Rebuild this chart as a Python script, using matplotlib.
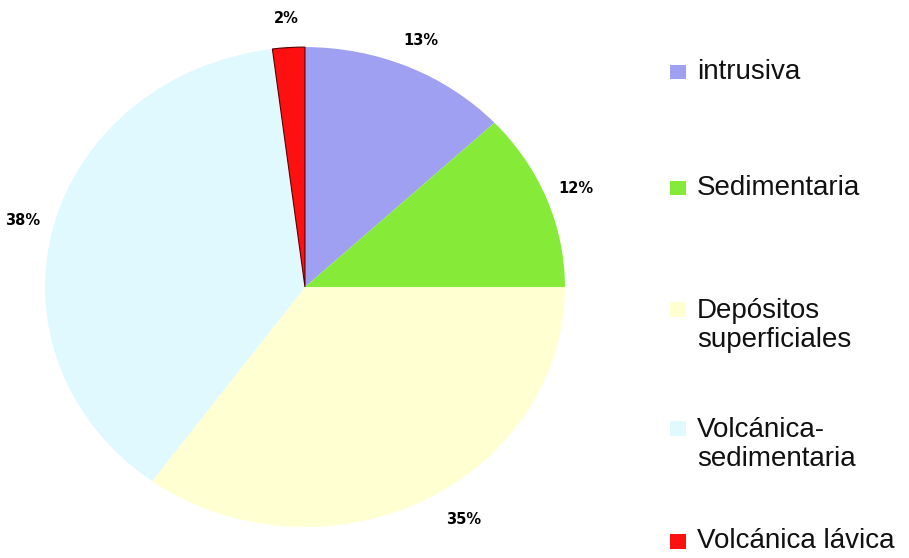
import matplotlib
matplotlib.use("Agg")
import matplotlib.pyplot as plt
from matplotlib.patches import Rectangle

# data
labels = ["intrusiva", "Sedimentaria", "Depósitos\nsuperficiales",
          "Volcánica-\nsedimentaria", "Volcánica lávica"]
values = [13, 12, 35, 38, 2]
colors = ["#a0a0f2", "#86ea38", "#ffffd2", "#e0f9ff", "#ff1010"]

legend_y = [0.871, 0.663, 0.416, 0.203, 0.030]

fig = plt.figure(figsize=(9.09, 5.58), dpi=100)
ax = fig.add_axes([0.0495, 0.0556, 0.572, 0.860])

wedges, texts, autotexts = ax.pie(
    values,
    colors=colors,
    startangle=90,
    counterclock=False,
    autopct="%1.0f%%",
    pctdistance=1.12,
    wedgeprops=dict(linewidth=0),
    textprops=dict(fontsize=10.5, fontweight="bold", color="black",
                   family="DejaVu Sans"),
)
# thin dark outline on the small red slice, like the original
wedges[4].set_edgecolor("#5a0000")
wedges[4].set_linewidth(0.8)

# the 35% label sits a little further round in the original
x35, y35 = autotexts[2].get_position()
autotexts[2].set_position((x35 + 0.1, y35 + 0.03))

ax.set_aspect("auto")
ax.set_xlim(-1, 1)
ax.set_ylim(-1, 1)
ax.axis("off")

# hand-placed legend to mimic the irregular spacing
for lab, col, y in zip(labels, colors, legend_y):
    nlines = lab.count("\n") + 1
    fig.text(0.767, y, lab, fontsize=20, family="Liberation Sans",
             va="center", ha="left", linespacing=1.15, color="#111111")
    sq_y = y + (nlines - 1) * 0.029
    fig.patches.append(Rectangle((0.737, sq_y - 0.013), 0.018, 0.026,
                                 transform=fig.transFigure,
                                 facecolor=col, edgecolor="none"))

fig.savefig("out.png", dpi=100)
